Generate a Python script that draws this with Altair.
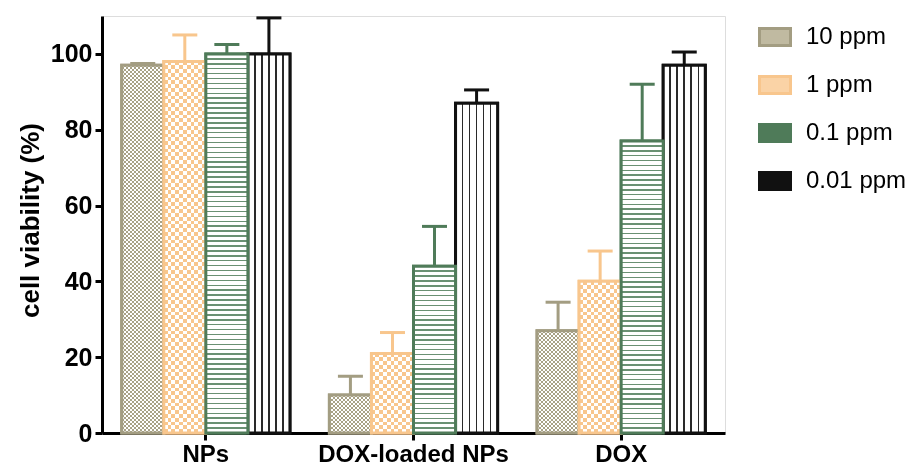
import altair as alt
import pandas as pd

groups = ["NPs", "DOX-loaded NPs", "DOX"]
concs = ["10 ppm", "1 ppm", "0.1 ppm", "0.01 ppm"]

viab_10 = [97, 10, 27]
viab_1 = [98, 21, 40]
viab_01 = [100, 44, 77]
viab_001 = [100, 87, 97]

err_10 = [0.5, 5, 7.5]
err_1 = [7, 5.5, 8]
err_01 = [2.5, 10.5, 15]
err_001 = [9.5, 3.5, 3.5]

fill_colors = ["#c0baa1", "#fad3a6", "#4f7b59", "#111111"]
stroke_colors = ["#a39d82", "#f8c68d", "#4f7b59", "#111111"]

rows = []
for gi, g in enumerate(groups):
    for c, vals, errs in zip(concs, [viab_10, viab_1, viab_01, viab_001],
                             [err_10, err_1, err_01, err_001]):
        rows.append({"group": g, "conc": c, "value": vals[gi],
                     "upper": vals[gi] + errs[gi]})
df = pd.DataFrame(rows)

W, H = 623, 417
YMAX = 110
FONT = "Liberation Sans"
BAR_W = W / 3 * 0.81 / 4

x_enc = alt.X("group:N", sort=groups,
              scale=alt.Scale(domain=groups, paddingInner=0.19, paddingOuter=0.095),
              axis=alt.Axis(title=None, labelAngle=0, labelFont=FONT, labelFontSize=24,
                            labelFontWeight="bold", labelColor="black", labelPadding=2,
                            labelLimit=0,
                            tickSize=7, tickWidth=3, tickColor="black",
                            domainColor="black", domainWidth=3, grid=False))
xo_enc = alt.XOffset("conc:N", sort=concs, scale=alt.Scale(domain=concs))
y_axis = alt.Axis(values=[0, 20, 40, 60, 80, 100], title="cell viability (%)",
                  titleFont=FONT, titleFontSize=26, titleFontWeight="bold",
                  titleColor="black", titleAngle=270, titleAlign="center",
                  titleBaseline="middle", titleX=-72, titleY=204,
                  labelFont=FONT, labelFontSize=25, labelFontWeight="bold",
                  labelColor="black", labelPadding=3, tickSize=7, tickWidth=3,
                  tickColor="black", domainColor="black", domainWidth=3, grid=False)
y_scale = alt.Scale(domain=[0, YMAX], nice=False)
y_enc = alt.Y("value:Q", scale=y_scale, axis=y_axis)

legend = alt.Legend(title=None, orient="none", legendX=656, legendY=4,
                    symbolType="M-1,-0.55H1V0.55H-1Z", symbolSize=961,
                    symbolStrokeWidth=3, symbolOpacity=1,
                    labelFont=FONT, labelFontSize=24, labelColor="black",
                    labelOffset=14, rowPadding=16, padding=0)

fill_enc = alt.Fill("conc:N", sort=concs,
                    scale=alt.Scale(domain=concs, range=fill_colors), legend=legend)
stroke_enc = alt.Stroke("conc:N", sort=concs,
                        scale=alt.Scale(domain=concs, range=stroke_colors), legend=legend)

base = alt.Chart(df)


def enc(ch):
    return ch.encode(x=x_enc, xOffset=xo_enc, y=y_enc)


def alt_stripes(n, c0, c1, horizontal):
    stops = []
    for i in range(n):
        col = c0 if i % 2 == 0 else c1
        stops.append(alt.GradientStop(offset=i / n, color=col))
        stops.append(alt.GradientStop(offset=(i + 1) / n, color=col))
    if horizontal:
        return alt.LinearGradient(gradient="linear", stops=stops, x1=0, x2=0, y1=0, y2=1)
    return alt.LinearGradient(gradient="linear", stops=stops, x1=0, x2=1, y1=0, y2=0)


bars = base.mark_bar(strokeWidth=3, strokeJoin="miter", opacity=1).encode(
    x=x_enc, xOffset=xo_enc, y=y_enc, fill=fill_enc, stroke=stroke_enc)
layers = [bars]

# checker patterns (10 ppm and 1 ppm): XOR of stripes via blend modes, then tinted
checker = [("10 ppm", viab_10, 2.0, "#a8a286", "#a39d82"),
           ("1 ppm", viab_1, 3.8, "#f8c68d", "#f8c68d")]
for conc, vals, cell, tint, edge in checker:
    nx = max(2, round(BAR_W / cell))
    layers.append(enc(base.transform_filter(alt.datum.conc == conc).mark_bar(
        fill=alt_stripes(nx, "#000000", "#ffffff", False), strokeWidth=0)))
    for gi, g in enumerate(groups):
        h = vals[gi] * H / YMAX
        ny = max(2, round(h / cell))
        layers.append(enc(base.transform_filter(
            (alt.datum.conc == conc) & (alt.datum.group == g)).mark_bar(
            fill=alt_stripes(ny, "#ffffff", "#000000", True), strokeWidth=0,
            blend="difference")))
    layers.append(enc(base.transform_filter(alt.datum.conc == conc).mark_bar(
        fill=tint, strokeWidth=0, blend="screen")))
    layers.append(enc(base.transform_filter(alt.datum.conc == conc).mark_bar(
        filled=False, stroke=edge, strokeWidth=3, strokeJoin="miter")))

# vertical stripes for 0.01 ppm bars
vstops = [alt.GradientStop(offset=0, color="white")]
half = 0.018
for k in range(1, 6):
    f = k / 6
    vstops += [alt.GradientStop(offset=f - half, color="white"),
               alt.GradientStop(offset=f - half, color="#2a2a2a"),
               alt.GradientStop(offset=f + half, color="#2a2a2a"),
               alt.GradientStop(offset=f + half, color="white")]
vstops.append(alt.GradientStop(offset=1, color="white"))
vgrad = alt.LinearGradient(gradient="linear", stops=vstops, x1=0, x2=1, y1=0, y2=0)
layers.append(enc(base.transform_filter(alt.datum.conc == "0.01 ppm").mark_bar(
    fill=vgrad, stroke="#111111", strokeWidth=3, strokeJoin="miter")))

# horizontal stripes for 0.1 ppm bars
spacing_px = 4.9
thick_px = 1.5
for gi, g in enumerate(groups):
    h = viab_01[gi] * H / YMAX
    n = max(2, round(h / spacing_px))
    t = thick_px / 2 / h
    hs = [alt.GradientStop(offset=0, color="white")]
    for k in range(1, n):
        f = k / n
        hs += [alt.GradientStop(offset=f - t, color="white"),
               alt.GradientStop(offset=f - t, color="#6a9173"),
               alt.GradientStop(offset=f + t, color="#6a9173"),
               alt.GradientStop(offset=f + t, color="white")]
    hs.append(alt.GradientStop(offset=1, color="white"))
    hgrad = alt.LinearGradient(gradient="linear", stops=hs, x1=0, x2=0, y1=0, y2=1)
    layers.append(enc(base.transform_filter(
        (alt.datum.conc == "0.1 ppm") & (alt.datum.group == g)).mark_bar(
        fill=hgrad, stroke="#4f7b59", strokeWidth=3, strokeJoin="miter")))

err = base.mark_rule(strokeWidth=3).encode(
    x=x_enc, xOffset=xo_enc, y=y_enc, y2="upper:Q", stroke=stroke_enc)
caps = base.mark_tick(filled=False, thickness=0.01, strokeWidth=3, size=22,
                      opacity=1).encode(
    x=x_enc, xOffset=xo_enc,
    y=alt.Y("upper:Q", scale=y_scale, axis=y_axis),
    stroke=stroke_enc)
layers += [err, caps]

chart = alt.layer(*layers).properties(
    width=W, height=H,
    autosize=alt.AutoSizeParams(type="none"),
    padding={"left": 94, "top": 8, "right": 183, "bottom": 36},
).configure_view(stroke="white", strokeWidth=0, strokeOpacity=0,
                 fill="white").configure(background="white")

chart.save("out.html", embed_options={"renderer": "svg", "actions": False})
